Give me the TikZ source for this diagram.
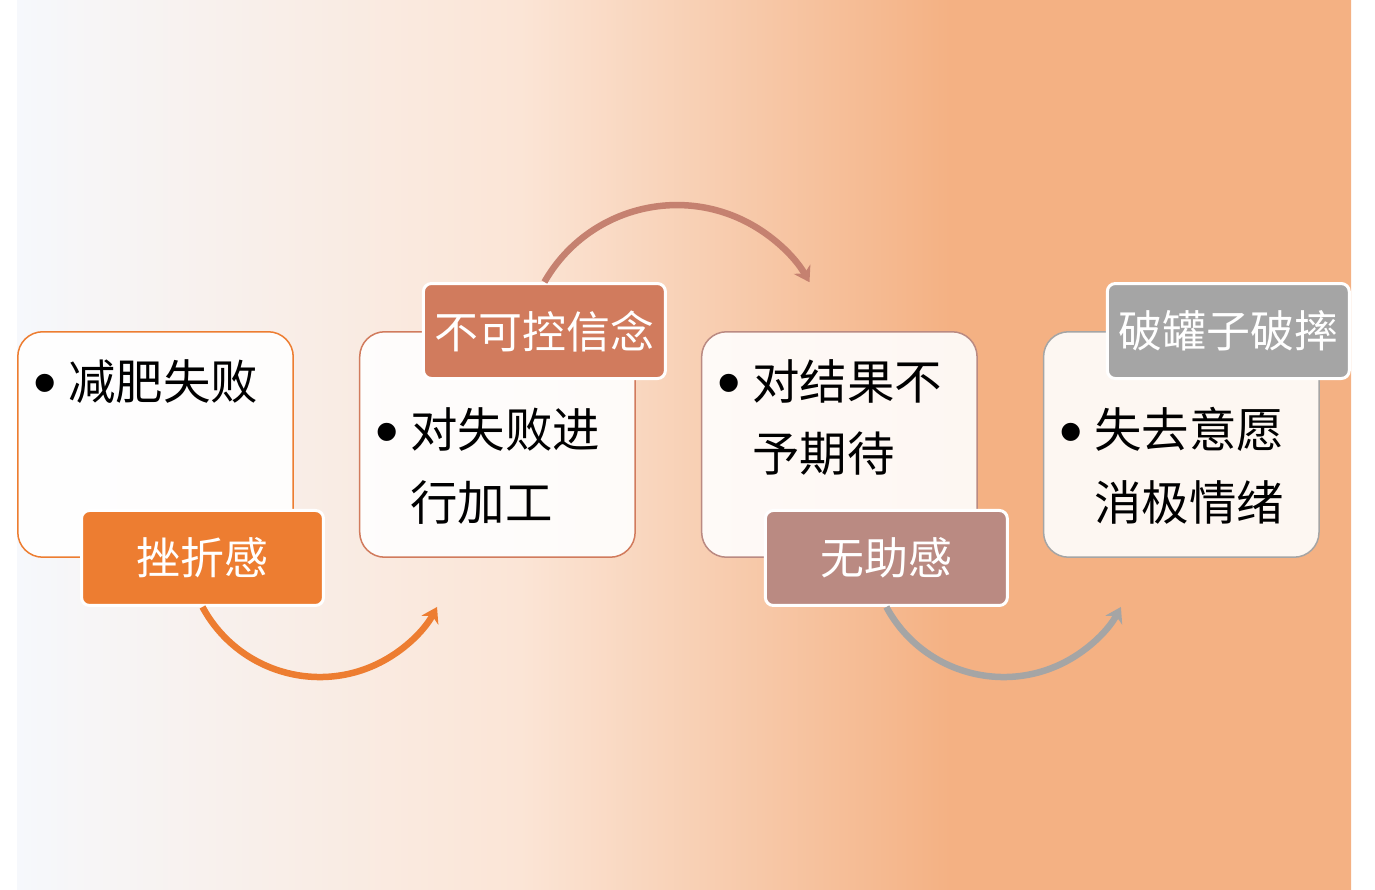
\documentclass[tikz,border=0pt]{standalone}
\usepackage{fontspec}
\setmainfont{Noto Sans CJK SC}
\newfontfamily\bulletfont{Liberation Sans}
\usetikzlibrary{arrows.meta,positioning}
\definecolor{bgleft}{RGB}{246,248,252}
\definecolor{bgmid}{RGB}{251,229,214}
\definecolor{bgright}{RGB}{244,177,131}
\definecolor{orangeacc}{RGB}{237,125,49}
\definecolor{coralacc}{RGB}{209,123,93}
\definecolor{coralarrow}{RGB}{197,129,112}
\definecolor{mauveacc}{RGB}{186,138,130}
\definecolor{grayacc}{RGB}{165,165,165}
\pgfdeclarehorizontalshading{bgfade}{100bp}{color(0bp)=(bgleft); color(25bp)=(bgleft); color(43.85bp)=(bgmid); color(60bp)=(bgright); color(100bp)=(bgright)}
\newcommand{\itembul}{\makebox[0.74em][l]{\raisebox{-3.6pt}{\bulletfont\fontsize{38pt}{38pt}\selectfont\textbullet}}}
\newcommand{\itemgap}{\makebox[0.74em]{}}

\begin{document}
\begin{tikzpicture}[x=0.02cm, y=0.02cm,
    card/.style={draw=#1, line width=0.03cm, rounded corners=0.5cm, fill=white, fill opacity=0.9,
        minimum width=5.51cm, minimum height=4.51cm, inner sep=0},
    tag/.style={draw=white, line width=0.06cm, rounded corners=0.16cm, fill=#1, text=white,
        font=\fontsize{25pt}{30pt}\selectfont, minimum width=4.84cm, minimum height=1.9cm, inner sep=0},
    point/.style={anchor=base west, inner sep=0, align=left, text width=5cm,
        font=\fontsize{27pt}{41.5pt}\selectfont},
    flow/.style={line width=0.13cm, -{Stealth[length=0.3cm, width=0.38cm]}}]
    \useasboundingbox (0,0) rectangle (1375,889);
    % Background fade
    \shade[shading=bgfade] (17,0) rectangle (1351,889);

    % Cards
    \node[card=orangeacc] (b1) at (155.5,444.5) {};
    \node[card=coralacc, right=1.3cm of b1] (b2) {};
    \node[card=mauveacc, right=1.3cm of b2] (b3) {};
    \node[card=grayacc, right=1.3cm of b3] (b4) {};

    % Card texts
    \node[point] (p1) at ([xshift=0.32cm, yshift=-1.36cm]b1.north west) {\itembul 减肥失败};
    \node[point] (p2) at ([xshift=0.32cm, yshift=-2.34cm]b2.north west) {\itembul 对失败进\\\itemgap 行加工};
    \node[point] (p3) at ([xshift=0.32cm, yshift=-1.36cm]b3.north west) {\itembul 对结果不\\\itemgap 予期待};
    \node[point] (p4) at ([xshift=0.32cm, yshift=-2.34cm]b4.north west) {\itembul 失去意愿\\\itemgap 消极情绪};

    % Tags
    \node[tag=orangeacc] (t1) at ([xshift=0.94cm]b1.south) {挫折感};
    \node[tag=coralacc] (t2) at ([xshift=0.94cm]b2.north) {不可控信念};
    \node[tag=mauveacc] (t3) at ([xshift=0.94cm]b3.south) {无助感};
    \node[tag=grayacc] (t4) at ([xshift=0.94cm]b4.north) {破罐子破摔};

    % Flow arcs
    \draw[flow, orangeacc] (t1.south) arc[start angle=208.3, end angle=331.7, radius=133.2];
    \draw[flow, coralarrow] (t2.north) arc[start angle=150.3, end angle=29.6, radius=152.5];
    \draw[flow, grayacc] (t3.south) arc[start angle=208.3, end angle=331.7, radius=133.2];
\end{tikzpicture}
\end{document}
